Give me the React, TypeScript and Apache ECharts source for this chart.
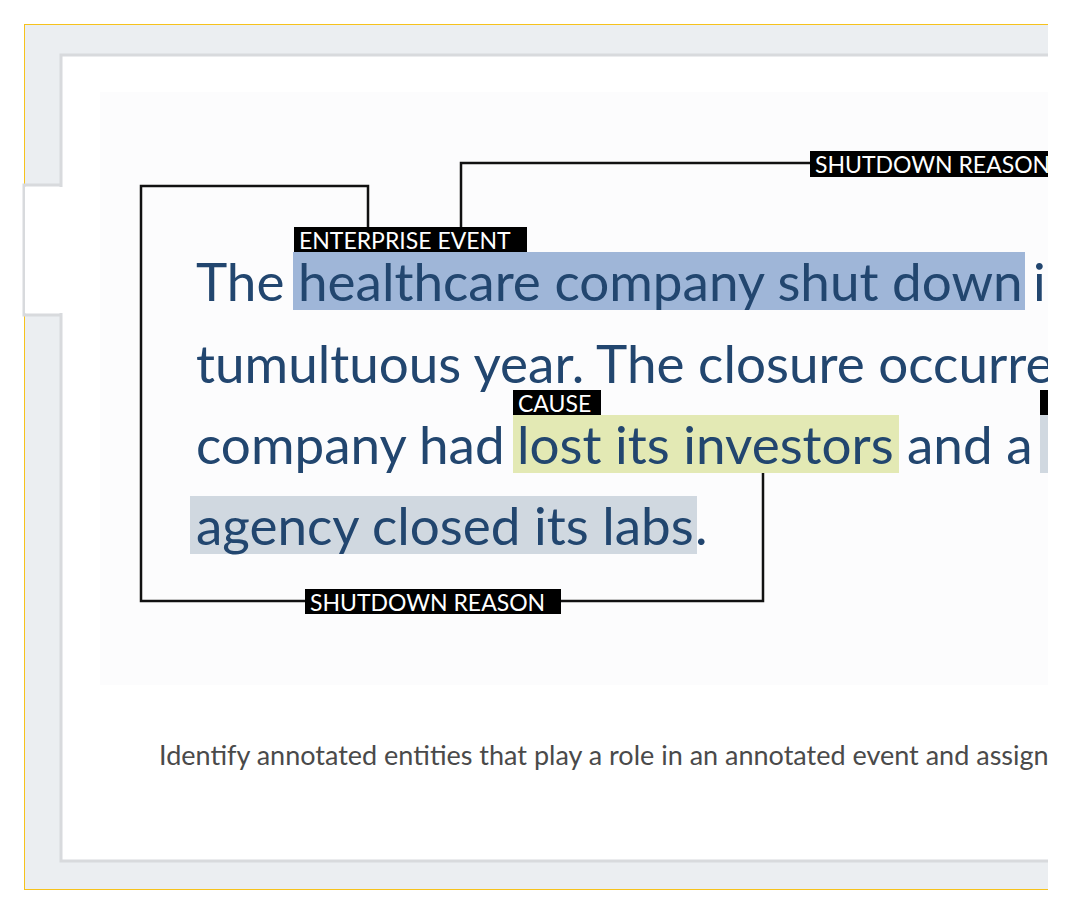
import { useEffect, useRef } from 'react';
import * as echarts from 'echarts';

const FONT = 'Lato, "Open Sans", sans-serif';
const TEXT_COLOR = '#22466f';

// text segments of the passage: [text, x, baseline]
const lineSegments: [string, number, number][] = [
  ['The', 196, 302],
  ['healthcare company shut down', 298, 302],
  ['in a', 1033, 302],
  ['tumultuous year. The closure occurred because the', 196, 384],
  ['company had', 196, 465],
  ['lost its investors', 517, 465],
  ['and a', 907, 465],
  ['agency closed its labs', 196, 546],
  ['.', 695, 546],
];

// highlights: [x0, y0, x1, y1, color]
const highlights: [number, number, number, number, string][] = [
  [293, 252, 1025, 310, '#9fb6d8'],
  [513, 415, 899, 473, '#e3e9b4'],
  [190, 496, 697, 554, '#d0d8e0'],
  [1040, 415, 1060, 473, '#d0d8e0'],
];

// label boxes: [text, x0, y0, x1, y1]
const labels: [string, number, number, number, number][] = [
  ['ENTERPRISE EVENT', 294, 227, 527, 252],
  ['CAUSE', 513, 390, 601, 415],
  ['SHUTDOWN REASON', 305, 589, 561, 614],
  ['SHUTDOWN REASON', 810, 151, 1080, 177],
  ['', 1040, 390, 1080, 415],
];

// connector polylines
const connectors: [number, number][][] = [
  [[368, 227], [368, 186], [141, 186], [141, 601], [305, 601]],
  [[561, 601], [763, 601], [763, 473]],
  [[461, 227], [461, 163], [810, 163]],
];

const caption = 'Identify annotated entities that play a role in an annotated event and assign';

export default function App() {
  const ref = useRef<HTMLDivElement | null>(null);
  useEffect(() => {
    if (!ref.current) return;
    const chart = echarts.init(ref.current, null, { renderer: 'svg' });
    const elements: any[] = [];
    // frame
    elements.push({ type: 'rect', shape: { x: 24.5, y: 24.5, width: 1040, height: 865 }, style: { fill: '#ebeef1', stroke: '#f6c21c', lineWidth: 1 } });
    elements.push({ type: 'rect', shape: { x: 24, y: 185, width: 40, height: 130 }, style: { fill: '#ffffff', stroke: '#d8dadd', lineWidth: 3 } });
    elements.push({ type: 'rect', shape: { x: 61, y: 55, width: 1020, height: 806 }, style: { fill: '#ffffff', stroke: '#d8dadd', lineWidth: 3 } });
    elements.push({ type: 'rect', shape: { x: 25, y: 187, width: 40, height: 126 }, style: { fill: '#ffffff' } });
    elements.push({ type: 'rect', shape: { x: 100, y: 92, width: 980, height: 593 }, style: { fill: '#fcfcfd' } });
    highlights.forEach(([x0, y0, x1, y1, c]) => {
      elements.push({ type: 'rect', shape: { x: x0, y: y0, width: x1 - x0, height: y1 - y0 }, style: { fill: c } });
    });
    lineSegments.forEach(([t, x, y]) => {
      elements.push({ type: 'text', x, y: y - 48, style: { text: t, font: `53px ${FONT}`, fill: TEXT_COLOR } });
    });
    connectors.forEach((pts) => {
      elements.push({ type: 'polyline', shape: { points: pts }, style: { stroke: '#111111', lineWidth: 2.5, fill: 'none' } });
    });
    labels.forEach(([t, x0, y0, x1, y1]) => {
      elements.push({ type: 'rect', shape: { x: x0, y: y0, width: x1 - x0, height: y1 - y0 }, style: { fill: '#000000' } });
      if (t) {
        elements.push({ type: 'text', x: x0 + 5, y: y0 + 1, style: { text: t, font: `23px ${FONT}`, fill: '#ffffff' } });
      }
    });
    elements.push({ type: 'text', x: 159, y: 741, style: { text: caption, font: `27px ${FONT}`, fill: '#4a4a4a' } });
    // right clip
    elements.push({ type: 'rect', shape: { x: 1048, y: 0, width: 30, height: 915 }, style: { fill: '#ffffff' } });
    elements.push({ type: 'line', shape: { x1: 24, y1: 889.5, x2: 1048, y2: 889.5 }, style: { stroke: '#f6c21c', lineWidth: 1 } });
    elements.push({ type: 'line', shape: { x1: 24, y1: 24.5, x2: 1048, y2: 24.5 }, style: { stroke: '#f6c21c', lineWidth: 1 } });
    chart.setOption({ animation: false, graphic: { elements } });
    return () => chart.dispose();
  }, []);
  return <div ref={ref} style={{ position: 'fixed', left: 0, top: 0, width: 1068, height: 915, background: '#ffffff' }} />;
}
